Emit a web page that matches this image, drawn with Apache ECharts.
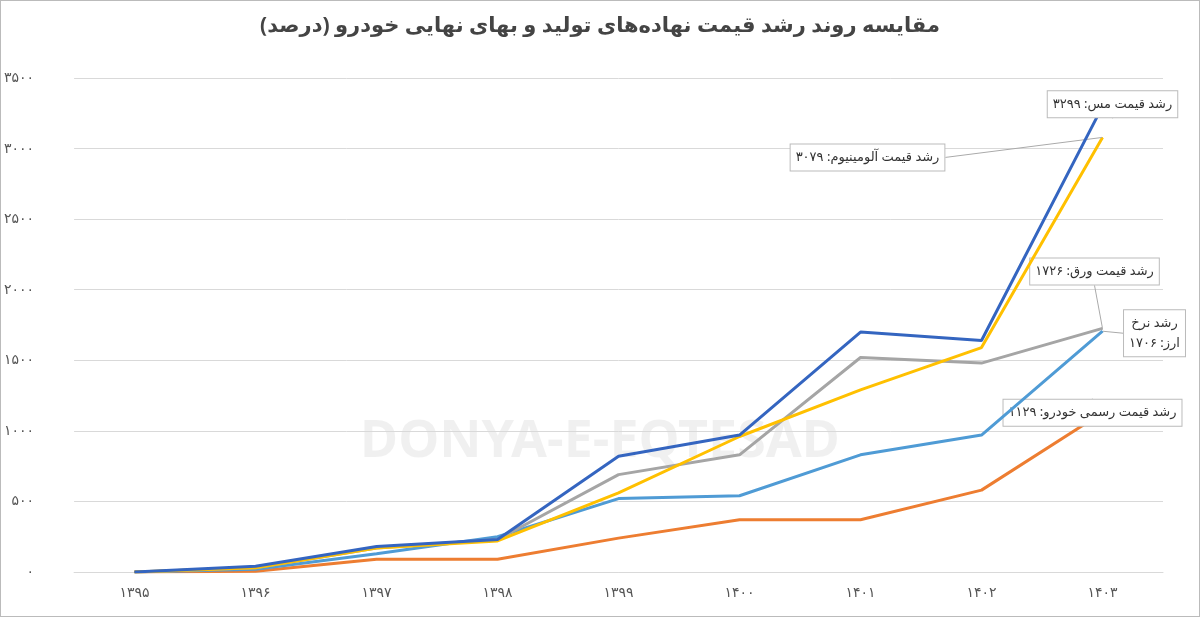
<!DOCTYPE html><html><head><meta charset="utf-8"><script src="https://cdn.jsdelivr.net/npm/echarts@6/dist/echarts.min.js"></script>
<style>html,body{margin:0;padding:0;background:#fff}#c{width:1198px;height:615px;border:1px solid #bbb}</style></head><body><div id="c"></div><script>
const years=['۱۳۹۵','۱۳۹۶','۱۳۹۷','۱۳۹۸','۱۳۹۹','۱۴۰۰','۱۴۰۱','۱۴۰۲','۱۴۰۳'];
const copper=[0,40,180,230,820,970,1700,1640,3299];
const aluminium=[0,30,170,220,560,960,1290,1590,3079];
const sheet=[0,30,170,230,690,830,1520,1480,1726];
const currency=[0,20,130,250,520,540,830,970,1706];
const car=[0,5,90,90,240,370,370,580,1129];
const fa=n=>String(n).replace(/\d/g,d=>'۰۱۲۳۴۵۶۷۸۹'[d]);
const F='"Noto Sans", "DejaVu Sans", sans-serif';
function mk(name,data,color,text,dx,dy,z){
 return {name,type:'line',data:data.map((v,i)=>i===data.length-1?{value:v,label:{show:true}}:v),
 symbol:'circle',symbolSize:1,showSymbol:true,z,lineStyle:{color,width:3},itemStyle:{color},
 label:{show:false,formatter:text,position:'inside',color:'#333',fontSize:13,fontFamily:F,backgroundColor:'#fff',borderColor:'#bbb',borderWidth:1,padding:[3,5],lineHeight:20},
 labelLayout:{dx,dy},labelLine:{show:true,lineStyle:{color:'#aaa',width:1}}};
}
const ch=echarts.init(document.getElementById('c'));
ch.setOption({
 animation:false,
 title:{text:'مقایسه روند رشد قیمت نهاده‌های تولید و بهای نهایی خودرو (درصد)',left:'center',top:10,textStyle:{fontFamily:F,fontSize:21,fontWeight:'bold',color:'#444'}},
 graphic:[{type:'text',left:'center',top:415,z:-1,style:{text:'DONYA-E-EQTESAD',fontSize:52,fontWeight:'bold',fill:'rgba(0,0,0,0.06)',fontFamily:F}}],
 grid:{left:66,right:36,top:77,bottom:44},
 xAxis:{type:'category',data:years,boundaryGap:true,axisLine:{lineStyle:{color:'#d9d9d9'}},axisTick:{show:false},axisLabel:{color:'#555',fontSize:14,fontFamily:F,margin:14}},
 yAxis:{type:'value',min:0,max:3500,interval:500,axisLine:{show:false},splitLine:{lineStyle:{color:'#d9d9d9'}},axisLabel:{color:'#555',fontSize:14,fontFamily:F,formatter:v=>fa(v),margin:40}},
 series:[
  mk('car',car,'#ed7d31','رشد قیمت رسمی خودرو: '+fa(1129),-10,0,2),
  mk('currency',currency,'#4f9bd5','رشد نرخ\nارز: '+fa(1706),52,2,3),
  mk('sheet',sheet,'#a5a5a5','رشد قیمت ورق: '+fa(1726),-8,-57,4),
  mk('aluminium',aluminium,'#ffc000','رشد قیمت آلومینیوم: '+fa(3079),-235,20,5),
  mk('copper',copper,'#3465c0','رشد قیمت مس: '+fa(3299),10,-2,6)
 ]
});
</script></body></html>
